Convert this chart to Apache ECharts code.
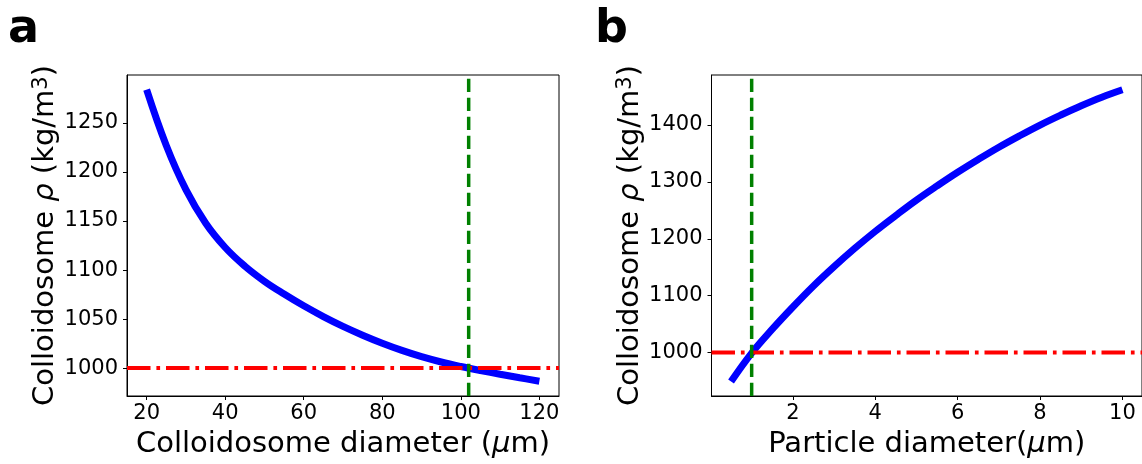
<!DOCTYPE html>
<html>
<head>
<meta charset="utf-8">
<script src="https://cdn.jsdelivr.net/npm/echarts@6/dist/echarts.min.js"></script>
<style>
html,body{margin:0;padding:0;background:#fff;}
#chart{width:1142px;height:464px;}
</style>
</head>
<body>
<div id="chart"></div>
<script>
// ---- Panel a data: colloidosome diameter (µm) vs density (kg/m3)
const aDiameter = [20,25,30,35,40,45,50,55,60,65,70,75,80,85,90,95,100,105,110,115,120];
const aDensity  = [1284,1227,1182,1148,1123,1104,1088.5,1075.5,1063.5,1052.5,1042.5,1033.5,1025.3,1018,1011.6,1006.2,1001.6,997.5,993.7,990.1,986.6];
const aXTicks = [20,40,60,80,100,120];
const aYTicks = [1000,1050,1100,1150,1200,1250];
const aWaterDensity = 1000;
const aCritDiameter = 102;

// ---- Panel b data: particle diameter (µm) vs density (kg/m3)
const bDiameter = [0.5,1,1.5,2,2.5,3,3.5,4,4.5,5,5.5,6,6.5,7,7.5,8,8.5,9,9.5,10];
const bDensity  = [949,999,1041,1080,1117,1151,1183,1213,1241,1268,1293,1317,1339.5,1361,1381,1400,1417.5,1434,1449,1462];
const bXTicks = [2,4,6,8,10];
const bYTicks = [1000,1100,1200,1300,1400];
const bWaterDensity = 1000;
const bCritDiameter = 1.0;

// axis limits
const aXLim = [15, 125], aYLim = [971.5, 1299];
const bXLim = [0.025, 10.475], bYLim = [923.5, 1488];

const FONT = 'DejaVu Sans';
const tickFs = 21, titleFs = 29;

function zip(xs, ys){ return xs.map((x,i)=>[x, ys[i]]); }
const plain = v => String(v);

function xAxisCfg(idx, lim, ticks, nameRich){
  return {
    gridIndex: idx, type: 'value', min: lim[0], max: lim[1],
    axisLine: {show: true, onZero: false, lineStyle: {color: '#000', width: 1}},
    axisTick: {show: true, length: 4, customValues: ticks, lineStyle: {color: '#000', width: 1}},
    axisLabel: {customValues: ticks, formatter: plain, fontSize: tickFs, color: '#000', fontFamily: FONT, margin: 7},
    splitLine: {show: false},
    name: nameRich, nameLocation: 'middle', nameGap: 34,
    nameTextStyle: {fontSize: titleFs, color: '#000', fontFamily: FONT,
      rich: {n: {fontSize: titleFs, color: '#000', fontFamily: FONT},
             i: {fontSize: titleFs, color: '#000', fontFamily: FONT, fontStyle: 'italic'}}}
  };
}
function yAxisCfg(idx, lim, ticks){
  return {
    gridIndex: idx, type: 'value', min: lim[0], max: lim[1],
    axisLine: {show: true, onZero: false, lineStyle: {color: '#000', width: 1}},
    axisTick: {show: true, length: 4, customValues: ticks, lineStyle: {color: '#000', width: 1}},
    axisLabel: {customValues: ticks, formatter: plain, fontSize: tickFs, color: '#000', fontFamily: FONT, margin: 9},
    splitLine: {show: false},
    name: '{n|Colloidosome }{i|ρ}{n| (kg/m}{s|3}{n|)}',
    nameLocation: 'middle', nameGap: 67, nameRotate: 90,
    nameTextStyle: {fontSize: titleFs, color: '#000', fontFamily: FONT,
      rich: {n: {fontSize: titleFs, color: '#000', fontFamily: FONT},
             i: {fontSize: titleFs, color: '#000', fontFamily: FONT, fontStyle: 'italic'},
             s: {fontSize: 21, color: '#000', fontFamily: FONT, verticalAlign: 'top'}}}
  };
}

const blueStyle = {color: '#0000ff', width: 7};
const redStyle = {color: '#ff0000', width: 4, type: [23.5, 5.9, 3.7, 5.9], cap: 'butt'};
const greenStyle = {color: '#008000', width: 3.5, type: [13.3, 5.7], cap: 'butt'};

function lineSeries(xi, yi, data, style, z, smooth){
  return {type: 'line', xAxisIndex: xi, yAxisIndex: yi, data: data, showSymbol: false,
          symbol: 'none', smooth: smooth, lineStyle: style, z: z, silent: true, clip: true};
}

const chart = echarts.init(document.getElementById('chart'), null, {renderer: 'canvas'});
chart.setOption({
  animation: false,
  backgroundColor: '#fff',
  grid: [
    {left: 127, top: 75, width: 432, height: 321, show: true, borderColor: '#000', borderWidth: 1, backgroundColor: 'transparent'},
    {left: 711.5, top: 75, width: 432.6, height: 321, show: true, borderColor: '#000', borderWidth: 1, backgroundColor: 'transparent'}
  ],
  xAxis: [
    xAxisCfg(0, aXLim, aXTicks, '{n|Colloidosome diameter (}{i|μ}{n|m)}'),
    xAxisCfg(1, bXLim, bXTicks, '{n|Particle diameter(}{i|μ}{n|m)}')
  ],
  yAxis: [
    yAxisCfg(0, aYLim, aYTicks),
    yAxisCfg(1, bYLim, bYTicks)
  ],
  graphic: [
    {type: 'text', left: 8, top: 7, style: {text: 'a', font: 'bold 46px "DejaVu Sans"', fill: '#000'}},
    {type: 'text', left: 595, top: 7, style: {text: 'b', font: 'bold 46px "DejaVu Sans"', fill: '#000'}}
  ],
  series: [
    lineSeries(0, 0, zip(aDiameter, aDensity), blueStyle, 2, 0.4),
    lineSeries(0, 0, [[aXLim[0], aWaterDensity], [aXLim[1], aWaterDensity]], redStyle, 3, false),
    lineSeries(0, 0, [[aCritDiameter, aYLim[0]], [aCritDiameter, aYLim[1]]], greenStyle, 4, false),
    lineSeries(1, 1, zip(bDiameter, bDensity), blueStyle, 2, 0.4),
    lineSeries(1, 1, [[bXLim[0], bWaterDensity], [bXLim[1], bWaterDensity]], redStyle, 3, false),
    lineSeries(1, 1, [[bCritDiameter, bYLim[0]], [bCritDiameter, bYLim[1]]], greenStyle, 4, false)
  ]
});
</script>
</body>
</html>
